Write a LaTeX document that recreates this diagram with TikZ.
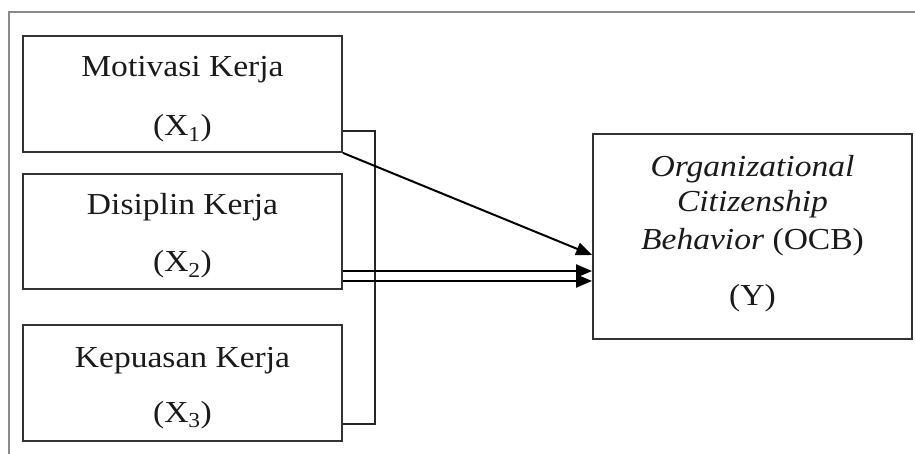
\documentclass[tikz,border=0pt]{standalone}
\usepackage{fontspec}
\setmainfont{Liberation Serif}[FakeStretch=1.1]
\usetikzlibrary{arrows.meta,calc}
\definecolor{boxline}{HTML}{333333}
\definecolor{frameline}{HTML}{8A8A8A}
\definecolor{txt}{HTML}{1A1A1A}
\begin{document}
\begin{tikzpicture}[x=1pt,y=-1pt,
  varbox/.style={draw=boxline,line width=1.8pt,minimum width=319pt,inner sep=0pt},
  lbl/.style={anchor=base,inner sep=0pt,text=txt,font=\fontsize{30.5}{36}\selectfont},
  link/.style={draw=black!85,line width=1.5pt},
  arr/.style={draw=black,line width=2pt,-{Triangle[length=16pt,width=13pt]}}]
\useasboundingbox (0,0) rectangle (915,454);
% outer frame
\coordinate (fa) at (9,454);
\coordinate (fb) at (9,12);
\coordinate (fc) at (915,12);
\draw[frameline,line width=1.5pt] (fa) -- (fb) -- (fc);
% boxes
\node[varbox,minimum height=116pt] (x1) at (182.5,94) {};
\node[varbox,minimum height=115pt] (x2) at (182.5,231.5) {};
\node[varbox,minimum height=116pt] (x3) at (182.5,383) {};
\node[draw=boxline,line width=1.8pt,minimum width=319pt,minimum height=205pt,inner sep=0pt] (y) at (752.5,236.5) {};
% labels
\node[lbl] (x1a) at (182.5,77) {Motivasi Kerja};
\node[lbl] (x1b) at (182.5,136) {(X\textsubscript{1})};
\node[lbl] (x2a) at (182.5,215) {Disiplin Kerja};
\node[lbl] (x2b) at (182.5,272) {(X\textsubscript{2})};
\node[lbl] (x3a) at (182.5,367) {Kepuasan Kerja};
\node[lbl] (x3b) at (182.5,422) {(X\textsubscript{3})};
\node[lbl] (ya) at (752.5,177) {\itshape Organizational};
\node[lbl] (yb) at (752.5,212) {\itshape Citizenship};
\node[lbl] (yc) at (752.5,250) {\textit{Behavior} (OCB)};
\node[lbl] (yd) at (752.5,305) {(Y)};
% bracket
\draw[link] ($(x1.east)+(0,37)$) -- ++(32,0) |- ($(x3.east)+(0,41)$);
% arrows
\draw[arr] (x1.south east) -- ($(y.west)+(0,18.5)$);
\draw[arr] ($(x2.east)+(0,39.5)$) -- ($(y.west)+(0,34.5)$);
\draw[arr] ($(x2.east)+(0,49.5)$) -- ($(y.west)+(0,44.5)$);
\end{tikzpicture}
\end{document}
